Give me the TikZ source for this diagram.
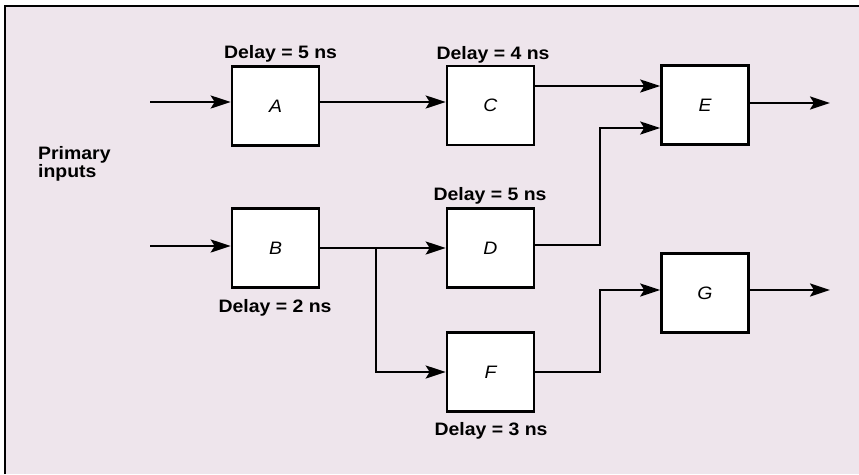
\documentclass[tikz,border=0pt]{standalone}
\usepackage{fontspec}
\setmainfont{Liberation Sans}[FakeStretch=1.08]
\usetikzlibrary{arrows.meta}
\definecolor{paper}{RGB}{238,229,236}
\tikzset{
  gate/.style={draw, fill=white, line width=2.6pt, minimum width=87pt, minimum height=79pt,
    inner sep=0pt, font=\fontsize{18}{18}\selectfont\itshape},
  wire/.style={line width=2.3pt, -{Stealth[length=20pt, width=13pt, inset=4pt]}},
  delay/.style={anchor=base, inner sep=0pt, font=\fontsize{18}{18}\selectfont\bfseries}
}
\begin{document}
\begin{tikzpicture}[x=1pt, y=-1pt]
  \useasboundingbox (0,0) rectangle (859,474);
  % paper and frame
  \fill[paper] (5,6) rectangle (859,474);
  \draw[line width=2.5pt] (5,474) -- (5,6) -- (859,6);

  % blocks
  \node[gate] (A) at (275.5,106) {A};
  \node[gate] (C) at (490.5,105.5) {C};
  \node[gate] (E) at (705,105) {E};
  \node[gate] (B) at (275.5,248) {B};
  \node[gate] (D) at (490.5,248) {D};
  \node[gate] (G) at (705,293) {G};
  \node[gate] (F) at (490.5,372) {F};

  % delay labels
  \node[delay] (lA) at (280.5,58) {Delay = 5 ns};
  \node[delay] (lC) at (493,59) {Delay = 4 ns};
  \node[delay] (lD) at (490,200) {Delay = 5 ns};
  \node[delay] (lB) at (275,312) {Delay = 2 ns};
  \node[delay] (lF) at (491,435) {Delay = 3 ns};

  \node[anchor=base west, inner sep=0pt, align=left,
        font=\fontsize{18}{18}\selectfont\bfseries] (pi) at (38,177) {Primary\\inputs};

  % wire end points
  \coordinate (inA) at (150,102);
  \coordinate (inB) at (150,246);
  \coordinate (E1) at ([yshift=19pt]E.west);
  \coordinate (E2) at ([yshift=-23pt]E.west);
  \coordinate (A1) at ([yshift=4pt]A.east);
  \coordinate (D1) at ([yshift=3pt]D.east);
  \coordinate (br) at (376,248);
  \coordinate (outE) at (830,103);
  \coordinate (outG) at (830,290);

  % connections
  \draw[wire] (inA) -- (inA -| A.west);
  \draw[wire] (A1) -- (A1 -| C.west);
  \draw[wire] (C.east |- E1) -- (E1);
  \draw[wire] (D1) -- ++(65,0) |- (E2);
  \draw[wire] (E.east |- outE) -- (outE);
  \draw[wire] (inB) -- (inB -| B.west);
  \draw[wire] (B.east) -- (B.east -| D.west);
  \draw[wire] (br) |- (F.west);
  \draw[wire] (F.east) -- ++(65,0) |- ([yshift=3pt]G.west);
  \draw[wire] (G.east |- outG) -- (outG);
\end{tikzpicture}
\end{document}
